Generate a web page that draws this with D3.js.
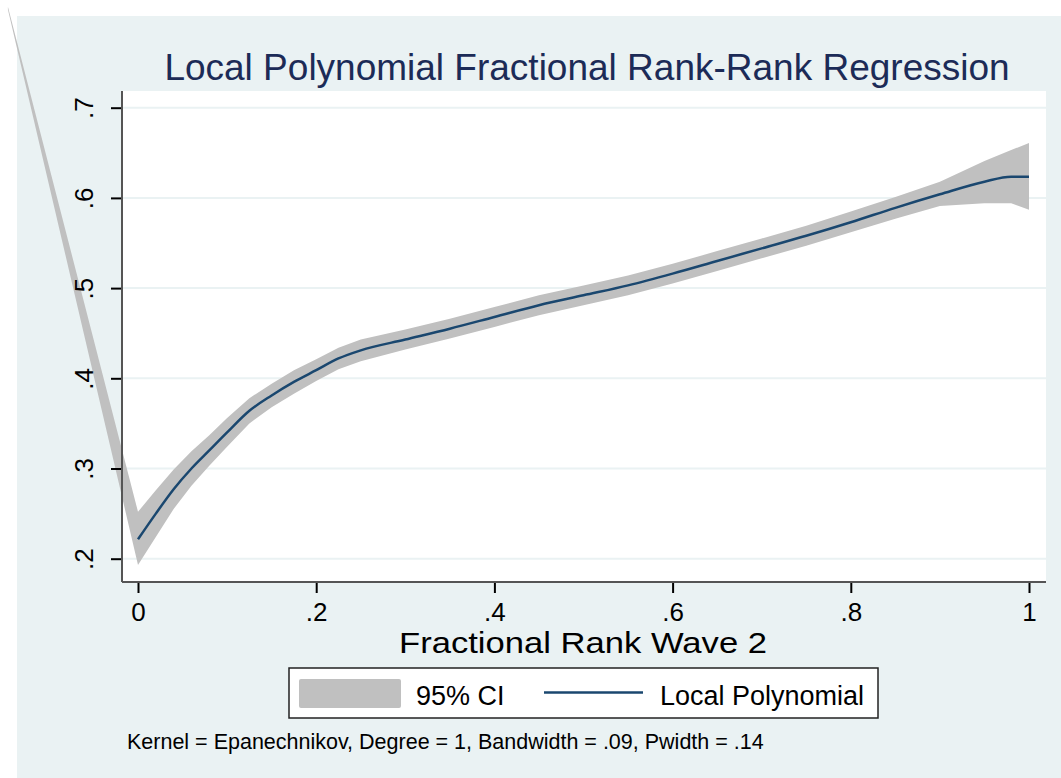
<!DOCTYPE html>
<html>
<head>
<meta charset="utf-8">
<script src="https://cdn.jsdelivr.net/npm/d3@7"></script>
<style>
  body { margin: 0; background: #fff; }
  text { font-family: "Liberation Sans", Arial, sans-serif; }
</style>
</head>
<body>
<div id="chart"></div>
<script>
// fractional rank (x), fitted value and 95% CI bounds
// the first point is the stray value that makes the band shoot out of the plot
const ranks = [-0.146, 0, 0.02, 0.04, 0.06, 0.08, 0.10, 0.125, 0.15, 0.175, 0.2, 0.225, 0.25, 0.3, 0.35, 0.4, 0.45, 0.5, 0.55, 0.6, 0.65, 0.7, 0.75, 0.8, 0.85, 0.9, 0.95, 0.98, 1.0];
const fitted = [null, 0.2215, 0.250, 0.277, 0.300, 0.320, 0.340, 0.364, 0.381, 0.396, 0.409, 0.422, 0.431, 0.443, 0.455, 0.468, 0.481, 0.492, 0.503, 0.516, 0.530, 0.544, 0.558, 0.573, 0.589, 0.604, 0.618, 0.6235, 0.6235];
const ciLower = [0.809, 0.193, 0.224, 0.255, 0.281, 0.303, 0.324, 0.350, 0.368, 0.383, 0.397, 0.410, 0.419, 0.432, 0.444, 0.457, 0.470, 0.481, 0.492, 0.505, 0.519, 0.533, 0.547, 0.562, 0.577, 0.591, 0.594, 0.594, 0.587];
const ciUpper = [0.812, 0.252, 0.276, 0.299, 0.319, 0.337, 0.356, 0.378, 0.394, 0.409, 0.421, 0.434, 0.443, 0.454, 0.466, 0.479, 0.492, 0.503, 0.514, 0.527, 0.541, 0.555, 0.569, 0.585, 0.601, 0.618, 0.641, 0.653, 0.661];

const xTicks = [0, 0.2, 0.4, 0.6, 0.8, 1];
const yTicks = [0.2, 0.3, 0.4, 0.5, 0.6, 0.7];
const fmt = d => d === 0 ? "0" : d === 1 ? "1" : d3.format(".1f")(d).replace(/^0/, "");

const W = 1061, H = 778;
const plot = { left: 122, right: 1046, top: 91, bottom: 582 };

const svg = d3.select("#chart").append("svg")
  .attr("width", W)
  .attr("height", H);

// outer graph region
svg.append("rect")
  .attr("x", 17).attr("y", 16)
  .attr("width", W - 17).attr("height", H - 16)
  .attr("fill", "#eaf2f3");

svg.append("rect")
  .attr("x", plot.left).attr("y", plot.top)
  .attr("width", plot.right - plot.left).attr("height", plot.bottom - plot.top)
  .attr("fill", "#fff");

const x = d3.scaleLinear().domain([0, 1]).range([138, 1029]);
const y = d3.scaleLinear().domain([0.2, 0.7]).range([558.7, 107.7]);

// grid
svg.append("g")
  .selectAll("line")
  .data(yTicks)
  .join("line")
  .attr("x1", plot.left).attr("x2", plot.right)
  .attr("y1", d => y(d)).attr("y2", d => y(d))
  .attr("stroke", "#eaf2f3")
  .attr("stroke-width", 2);

const rows = ranks.map((r, i) => ({ r: r, fit: fitted[i], lo: ciLower[i], hi: ciUpper[i] }));

// CI band (not clipped, as in the original)
svg.append("path")
  .datum(rows)
  .attr("fill", "#c0c0c0")
  .attr("d", d3.area()
    .x(d => x(d.r))
    .y0(d => y(d.lo))
    .y1(d => y(d.hi)));

svg.append("path")
  .datum(rows.filter(d => d.fit !== null))
  .attr("fill", "none")
  .attr("stroke", "#1a476f")
  .attr("stroke-width", 2.5)
  .attr("d", d3.line()
    .curve(d3.curveMonotoneX)
    .x(d => x(d.r))
    .y(d => y(d.fit)));

// axes
const yAxis = svg.append("g")
  .attr("transform", `translate(${plot.left},0)`)
  .call(d3.axisLeft(y).tickValues(yTicks).tickSize(11).tickFormat(fmt));
yAxis.select(".domain").remove();
yAxis.selectAll(".tick line").attr("stroke", "#000").attr("stroke-width", 2);
yAxis.selectAll(".tick text")
  .attr("x", null).attr("dy", null)
  .attr("transform", "translate(-29,0) rotate(-90)")
  .attr("text-anchor", "middle")
  .attr("font-size", 26)
  .attr("fill", "#000");

const xAxis = svg.append("g")
  .attr("transform", `translate(0,${plot.bottom})`)
  .call(d3.axisBottom(x).tickValues(xTicks).tickSize(11).tickFormat(fmt));
xAxis.select(".domain").remove();
xAxis.selectAll(".tick line").attr("stroke", "#000").attr("stroke-width", 2);
xAxis.selectAll(".tick text")
  .attr("y", 39).attr("dy", null)
  .attr("font-size", 26)
  .attr("fill", "#000");

svg.append("line")
  .attr("x1", plot.left).attr("x2", plot.left)
  .attr("y1", plot.top).attr("y2", plot.bottom)
  .attr("stroke", "#555").attr("stroke-width", 2);
svg.append("line")
  .attr("x1", plot.left).attr("x2", plot.right)
  .attr("y1", plot.bottom).attr("y2", plot.bottom)
  .attr("stroke", "#555").attr("stroke-width", 2);

// titles
svg.append("text")
  .attr("x", 587).attr("y", 80)
  .attr("text-anchor", "middle")
  .attr("font-size", 37)
  .attr("fill", "#1c2b57")
  .text("Local Polynomial Fractional Rank-Rank Regression");

// the axis title is drawn wide and fairly short in the original
svg.append("text")
  .attr("x", 583).attr("y", 653)
  .attr("text-anchor", "middle")
  .attr("font-size", 29)
  .attr("textLength", 368)
  .attr("lengthAdjust", "spacingAndGlyphs")
  .attr("fill", "#000")
  .text("Fractional Rank Wave 2");

// legend
const legend = svg.append("g");
legend.append("rect")
  .attr("x", 289).attr("y", 668).attr("width", 589).attr("height", 50)
  .attr("fill", "#fff").attr("stroke", "#222").attr("stroke-width", 1.5);
legend.append("rect")
  .attr("x", 299).attr("y", 679).attr("width", 102).attr("height", 29)
  .attr("rx", 2)
  .attr("fill", "#c0c0c0");
legend.append("text")
  .attr("x", 416).attr("y", 705)
  .attr("font-size", 27)
  .text("95% CI");
legend.append("line")
  .attr("x1", 544).attr("x2", 643).attr("y1", 692.5).attr("y2", 692.5)
  .attr("stroke", "#1a476f").attr("stroke-width", 2.5);
legend.append("text")
  .attr("x", 660).attr("y", 705)
  .attr("font-size", 27)
  .text("Local Polynomial");

svg.append("text")
  .attr("x", 127).attr("y", 749)
  .attr("font-size", 21.5)
  .attr("fill", "#000")
  .text("Kernel = Epanechnikov, Degree = 1, Bandwidth = .09, Pwidth = .14");
</script>
</body>
</html>
